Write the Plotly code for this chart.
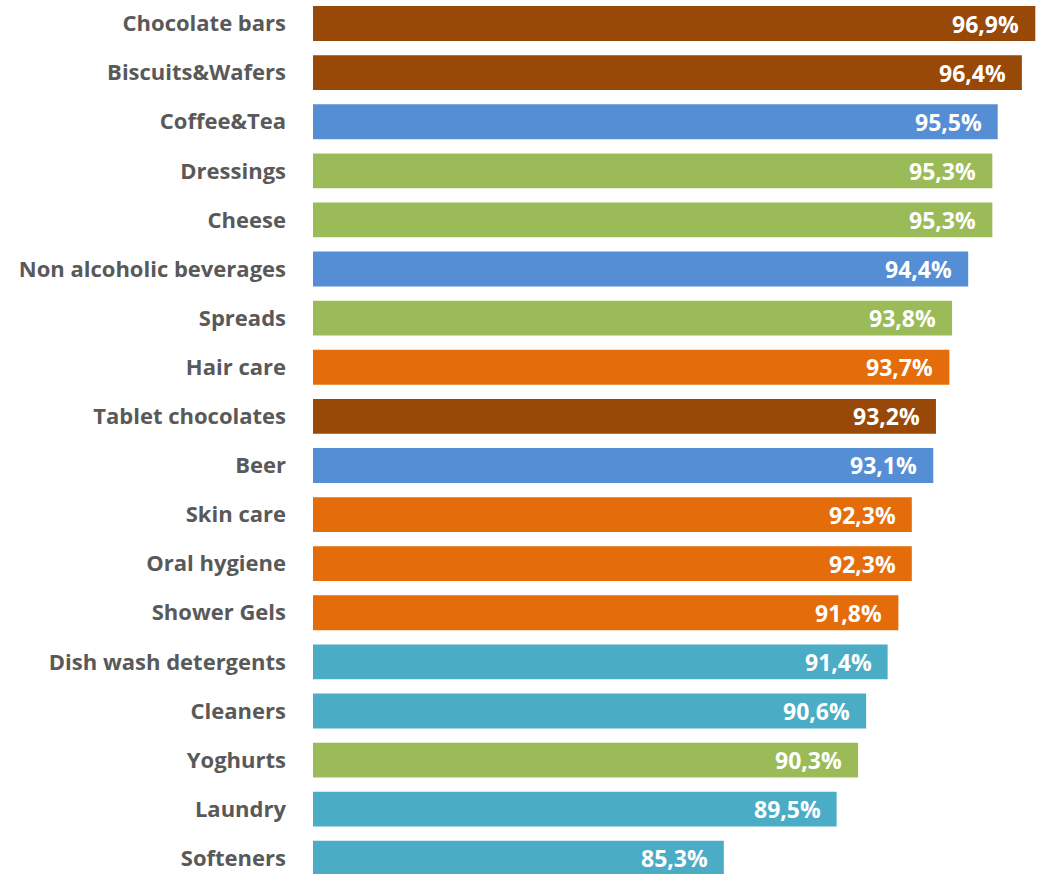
import plotly.graph_objects as go

categories = ["Chocolate bars", "Biscuits&Wafers", "Coffee&Tea", "Dressings", "Cheese",
              "Non alcoholic beverages", "Spreads", "Hair care", "Tablet chocolates", "Beer",
              "Skin care", "Oral hygiene", "Shower Gels", "Dish wash detergents", "Cleaners",
              "Yoghurts", "Laundry", "Softeners"]
values = [96.9, 96.4, 95.5, 95.3, 95.3, 94.4, 93.8, 93.7, 93.2, 93.1,
          92.3, 92.3, 91.8, 91.4, 90.6, 90.3, 89.5, 85.3]
groups = ["sweets", "sweets", "drinks", "food", "food", "drinks", "food", "personal", "sweets", "drinks",
          "personal", "personal", "personal", "home", "home", "food", "home", "home"]
palette = {"sweets": "#984807", "drinks": "#558ED5", "food": "#9BBB59",
           "personal": "#E46C0A", "home": "#4BACC6"}

colors = [palette[g] for g in groups]
labels = [f"{v:.1f}%".replace(".", ",") for v in values]
FONT = "Open Sans"

fig = go.Figure(go.Bar(
    x=values, y=categories, orientation="h", base=0,
    marker=dict(color=colors, line=dict(width=0)),
    width=0.71, hoverinfo="skip",
))

for v, c, t in zip(values, categories, labels):
    fig.add_annotation(x=v, y=c, text=f"<b>{t}</b>", showarrow=False,
                       xanchor="right", xshift=-14,
                       font=dict(family=FONT, size=23, color="white"))

fig.update_layout(
    width=1038, height=874,
    margin=dict(l=313, r=0, t=0, b=0),
    paper_bgcolor="white", plot_bgcolor="white",
    showlegend=False,
    xaxis=dict(range=[70, 97], visible=False, showgrid=False, zeroline=False),
    yaxis=dict(type="category", categoryorder="array", categoryarray=categories,
               range=[17.32, -0.479], autorange=False,
               showgrid=False, zeroline=False, showline=False,
               ticks="", ticklabelstandoff=26,
               tickfont=dict(family=FONT, size=22, color="#595959", weight="bold")),
)

fig.write_html("out.html")
